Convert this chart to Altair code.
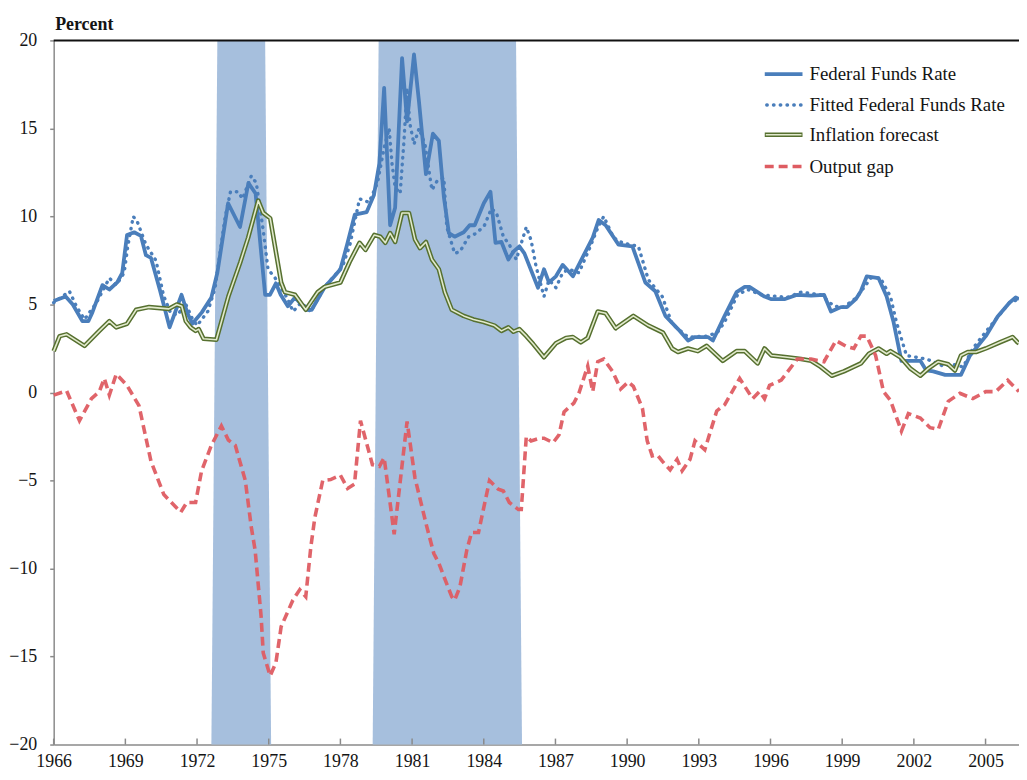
import altair as alt
import pandas as pd

# ---------------- data ----------------
ffr_x = [1966.0, 1966.5, 1966.8, 1967.2, 1967.45, 1967.62, 1968.04, 1968.33, 1968.66, 1968.87,
         1969.07, 1969.37, 1969.65, 1969.86, 1970.07, 1970.45, 1970.85, 1971.35, 1971.6, 1971.8,
         1972.2, 1972.6, 1972.85, 1973.3, 1973.8, 1974.15, 1974.45, 1974.85, 1975.05, 1975.3,
         1975.5, 1975.8, 1976.1, 1976.3, 1976.55, 1976.8, 1977.35, 1977.75, 1978.0, 1978.3,
         1978.6, 1979.1, 1979.4, 1979.63, 1979.83, 1980.08, 1980.29, 1980.58, 1980.79, 1981.08,
         1981.29, 1981.58, 1981.87, 1982.12, 1982.33, 1982.54, 1982.78, 1983.16, 1983.41, 1983.62,
         1984.0, 1984.28, 1984.49, 1984.74, 1985.03, 1985.24, 1985.49, 1985.7, 1986.27, 1986.52,
         1986.73, 1987.02, 1987.3, 1987.73, 1988.56, 1988.81, 1989.1, 1989.64, 1990.22, 1990.76,
         1991.18, 1991.6, 1992.13, 1992.55, 1992.84, 1993.38, 1993.59, 1994.08, 1994.58, 1994.92,
         1995.12, 1995.75, 1996.04, 1996.58, 1997.12, 1997.7, 1998.24, 1998.53, 1998.95, 1999.2,
         1999.57, 1999.78, 2000.03, 2000.52, 2000.86, 2001.15, 2001.48, 2002.27, 2002.52, 2002.81,
         2003.31, 2003.97, 2004.35, 2005.01, 2005.5, 2006.0, 2006.26, 2006.4]
ffr_y = [5.2, 5.45, 5.0, 4.05, 4.05, 4.55, 6.1, 5.85, 6.25, 6.8,
         8.95, 9.1, 8.9, 7.8, 7.65, 5.8, 3.7, 5.55, 4.5, 3.9,
         4.55, 5.4, 6.8, 10.75, 9.4, 11.9, 11.3, 5.55, 5.55, 6.2,
         5.55, 4.9, 5.4, 5.1, 4.7, 4.7, 6.0, 6.6, 7.0, 8.5,
         10.1, 10.25, 11.2, 13.0, 17.3, 9.5, 10.5, 19.0, 15.4, 19.2,
         16.5, 12.4, 14.7, 14.3, 11.1, 9.05, 8.85, 9.1, 9.5, 9.5,
         10.75, 11.4, 8.5, 8.55, 7.55, 8.0, 8.3, 7.9, 5.95, 7.0,
         6.25, 6.6, 7.25, 6.6, 8.8, 9.8, 9.5, 8.4, 8.3, 6.25,
         5.75, 4.35, 3.6, 2.95, 3.15, 3.15, 2.95, 4.35, 5.7, 6.0,
         6.0, 5.45, 5.3, 5.3, 5.55, 5.5, 5.55, 4.6, 4.85, 4.85,
         5.3, 5.75, 6.6, 6.5, 5.45, 4.0, 1.8, 1.8, 1.25, 1.2,
         1.0, 1.0, 2.1, 3.2, 4.3, 5.1, 5.4, 5.3]

fit_x = [1966.0, 1966.66, 1966.95, 1967.29, 1967.79, 1968.33, 1968.62, 1968.95, 1969.1, 1969.33,
         1969.5, 1969.86, 1970.28, 1970.6, 1970.9, 1971.2, 1971.5, 1971.8, 1972.0, 1972.45,
         1972.75, 1973.18, 1973.4, 1973.73, 1973.9, 1974.27, 1974.48, 1974.77, 1974.97, 1975.27,
         1975.8, 1976.02, 1976.35, 1976.76, 1977.34, 1977.8, 1978.1, 1978.4, 1978.8, 1979.2,
         1979.55, 1979.83, 1980.04, 1980.16, 1980.29, 1980.5, 1980.66, 1980.79, 1980.91, 1981.08,
         1981.29, 1981.54, 1981.83, 1982.04, 1982.33, 1982.45, 1982.78, 1983.0, 1983.37, 1983.7,
         1984.03, 1984.32, 1984.53, 1984.82, 1985.07, 1985.36, 1985.78, 1985.98, 1986.19, 1986.52,
         1986.73, 1987.02, 1987.3, 1987.56, 1987.98, 1988.4, 1988.77, 1989.02, 1989.43, 1989.8,
         1990.47, 1990.89, 1991.47, 1991.88, 1992.55, 1993.38, 1993.8, 1994.08, 1994.62, 1995.04,
         1995.62, 1996.7, 1997.28, 1998.1, 1998.66, 1999.07, 1999.61, 2000.2, 2000.6, 2001.02,
         2001.27, 2001.69, 2002.52, 2002.81, 2003.23, 2003.64, 2004.06, 2004.47, 2005.01, 2005.43,
         2006.0, 2006.4]
fit_y = [5.1, 5.75, 4.9, 4.15, 5.1, 6.5, 6.1, 6.8, 8.3, 10.0,
         9.7, 8.4, 7.5, 5.5, 4.5, 4.4, 5.1, 4.2, 3.8, 4.6,
         5.9, 10.0, 11.4, 11.4, 11.0, 12.3, 11.9, 9.2, 7.0, 6.5,
         5.3, 4.6, 5.1, 4.6, 6.0, 6.7, 7.2, 8.4, 11.0, 10.8,
         11.9, 13.9, 15.0, 13.0, 11.65, 11.3, 14.3, 17.3, 15.25, 14.1,
         15.0, 14.1, 11.5, 12.0, 12.2, 9.4, 7.9, 8.0, 8.85, 9.05,
         9.5, 10.45, 10.2, 8.85, 8.4, 7.55, 9.4, 8.65, 7.15, 5.45,
         6.4, 5.95, 6.8, 7.0, 6.8, 8.1, 9.35, 10.0, 8.8, 8.5,
         8.3, 6.4, 5.45, 3.9, 3.15, 3.2, 3.45, 4.0, 5.55, 5.85,
         5.55, 5.4, 5.7, 5.55, 4.9, 4.85, 5.4, 6.5, 6.5, 5.45,
         4.0, 2.1, 1.9, 1.75, 1.5, 1.6, 1.45, 2.5, 3.45, 4.15,
         5.1, 5.3]

inf_x = [1966.0, 1966.25, 1966.54, 1967.29, 1967.91, 1968.33, 1968.62, 1969.07, 1969.45, 1969.99,
         1970.82, 1971.15, 1971.36, 1971.53, 1971.73, 1971.94, 1972.07, 1972.27, 1972.81, 1973.31,
         1973.81, 1974.14, 1974.56, 1974.77, 1975.06, 1975.52, 1975.68, 1976.1, 1976.55, 1977.05,
         1977.34, 1978.0, 1978.38, 1978.8, 1979.05, 1979.42, 1979.67, 1979.88, 1980.08, 1980.29,
         1980.58, 1980.87, 1981.12, 1981.33, 1981.58, 1981.83, 1982.12, 1982.37, 1982.66, 1983.16,
         1983.57, 1984.0, 1984.45, 1984.74, 1985.03, 1985.24, 1985.49, 1985.78, 1986.07, 1986.52,
         1987.02, 1987.44, 1987.73, 1988.06, 1988.35, 1988.77, 1989.1, 1989.52, 1990.26, 1990.89,
         1991.5, 1991.88, 1992.13, 1992.55, 1992.96, 1993.33, 1994.0, 1994.58, 1994.92, 1995.46,
         1995.75, 1996.04, 1996.7, 1997.28, 1997.7, 1998.1, 1998.57, 1999.07, 1999.78, 2000.12,
         2000.52, 2000.86, 2001.02, 2001.44, 2001.86, 2002.27, 2002.6, 2003.02, 2003.44, 2003.72,
         2003.97, 2004.26, 2004.6, 2005.01, 2005.6, 2006.13, 2006.34, 2006.4]
inf_y = [2.35, 3.2, 3.3, 2.65, 3.5, 4.05, 3.7, 3.9, 4.7, 4.85,
         4.75, 5.0, 4.9, 4.05, 3.7, 3.5, 3.6, 3.05, 3.0, 5.45,
         7.4, 8.8, 10.9, 10.2, 9.9, 6.25, 5.7, 5.55, 4.7, 5.7,
         6.0, 6.25, 7.4, 8.5, 8.1, 8.95, 8.85, 8.5, 9.05, 8.55,
         10.2, 10.2, 8.7, 8.2, 8.55, 7.55, 7.0, 5.7, 4.7, 4.35,
         4.15, 4.0, 3.8, 3.5, 3.7, 3.45, 3.6, 3.2, 2.75, 2.0,
         2.8, 3.1, 3.15, 2.85, 3.1, 4.6, 4.5, 3.65, 4.35, 3.8,
         3.4, 2.5, 2.3, 2.5, 2.35, 2.65, 1.8, 2.35, 2.35, 1.65,
         2.5, 2.1, 2.0, 1.9, 1.8, 1.45, 0.95, 1.2, 1.65, 2.2,
         2.5, 2.2, 2.35, 2.0, 1.35, 0.95, 1.35, 1.75, 1.6, 1.25,
         2.1, 2.3, 2.3, 2.5, 2.85, 3.15, 2.85, 2.8]

gap_x = [1966.0, 1966.54, 1967.08, 1967.58, 1967.91, 1968.12, 1968.33, 1968.62, 1969.07, 1969.57,
         1970.07, 1970.61, 1971.32, 1971.57, 1971.94, 1972.19, 1972.6, 1973.02, 1973.31, 1973.6,
         1974.02, 1974.27, 1974.43, 1974.68, 1974.77, 1975.06, 1975.3, 1975.52, 1976.01, 1976.3,
         1976.55, 1976.76, 1976.93, 1977.26, 1977.59, 1978.0, 1978.3, 1978.59, 1978.84, 1979.34,
         1979.63, 1979.83, 1980.25, 1980.79, 1981.12, 1981.62, 1981.91, 1982.12, 1982.33, 1982.66,
         1982.78, 1983.0, 1983.29, 1983.49, 1983.78, 1984.24, 1984.61, 1984.82, 1985.07, 1985.45,
         1985.57, 1985.78, 1985.98, 1986.32, 1986.52, 1986.9, 1987.15, 1987.36, 1987.77, 1987.98,
         1988.35, 1988.56, 1988.77, 1989.02, 1989.39, 1989.73, 1990.05, 1990.26, 1990.64, 1990.84,
         1991.05, 1991.26, 1991.47, 1991.8, 1992.09, 1992.3, 1992.63, 1992.84, 1993.25, 1993.75,
         1994.08, 1994.71, 1995.25, 1995.54, 1995.75, 1995.96, 1996.45, 1997.12, 1997.7, 1998.24,
         1998.74, 1999.2, 1999.49, 1999.78, 2000.03, 2000.4, 2000.73, 2001.02, 2001.48, 2001.77,
         2002.27, 2002.68, 2003.02, 2003.44, 2003.93, 2004.47, 2005.01, 2005.43, 2005.93, 2006.4]
gap_y = [-0.15, 0.1, -1.6, -0.35, 0.05, 0.8, -0.15, 1.05, 0.4, -0.75,
         -3.9, -5.8, -6.8, -6.25, -6.25, -4.45, -3.0, -1.9, -2.7, -3.0,
         -5.0, -7.65, -8.95, -12.7, -14.8, -16.1, -15.35, -13.3, -11.8, -11.2,
         -11.6, -8.8, -7.1, -5.0, -4.95, -4.7, -5.45, -5.2, -1.6, -4.1,
         -4.2, -3.7, -8.05, -1.65, -4.85, -7.65, -9.15, -9.7, -10.45, -11.6,
         -11.8, -11.05, -8.95, -7.95, -7.95, -5.0, -5.5, -5.6, -6.25, -6.65,
         -6.65, -2.5, -2.75, -2.6, -2.6, -2.85, -2.4, -1.1, -0.6, -0.05,
         1.5, 0.05, 1.75, 1.9, 1.2, 0.2, 0.6, 0.35, -0.9, -2.75,
         -3.6, -3.55, -3.9, -4.4, -3.8, -4.45, -3.8, -2.75, -3.25, -1.05,
         -0.7, 0.8, -0.35, 0.05, -0.35, 0.4, 0.7, 1.9, 1.9, 1.75,
         2.95, 2.6, 2.5, 3.2, 3.2, 2.1, 0.05, -0.45, -2.2, -1.2,
         -1.45, -2.0, -2.1, -0.5, -0.05, -0.35, 0.05, 0.05, 0.7, 0.05]

# shaded periods (Excel area series: off / on / on / off)
rec_x = [1972.60, 1972.85, 1974.85, 1975.10, 1979.35, 1979.60, 1985.35, 1985.60]
rec_top = [-20, 20, 20, -20, -20, 20, 20, -20]
rec_bottom = [-20, -20, -20, -20, -20, -20, -20, -20]
rec_band = [1, 1, 1, 1, 2, 2, 2, 2]

x_ticks = [1966, 1969, 1972, 1975, 1978, 1981, 1984, 1987, 1990, 1993, 1996, 1999, 2002, 2005]
y_ticks = [-20, -15, -10, -5, 0, 5, 10, 15, 20]
legend_labels = ["Federal Funds Rate", "Fitted Federal Funds Rate", "Inflation forecast", "Output gap"]

# ---------------- styling ----------------
W, H = 972, 709
FONT = "Liberation Serif, Times New Roman, Times, DejaVu Serif, serif"
BLUE = "#4A7EBB"
RED = "#DE5C62"
GREEN_D = "#56702F"
GREEN_L = "#E2EACD"
SHADE = "#A6BFDD"
AXIS_GRAY = "#8A8A8A"
TXT = "#141414"

xs = alt.Scale(domain=[1966, 2006.4], nice=False, zero=False)
ys = alt.Scale(domain=[-20, 20], nice=False, zero=False)

x_axis = alt.Axis(
    values=x_ticks, format="d", title=None, grid=False, ticks=False, tickSize=0,
    labelFlush=False, labelPadding=8, labelFont=FONT, labelFontSize=18, labelColor=TXT,
    labelBaseline="top", domainColor=AXIS_GRAY, domainWidth=1.5, labelOverlap=False)
y_axis = alt.Axis(
    values=y_ticks, title="Percent", titleAngle=0, titleX=1, titleY=-11, titleAlign="left",
    titleBaseline="alphabetic", titleFont=FONT, titleFontSize=18, titleFontWeight="bold",
    titleColor=TXT, grid=False, tickSize=4, tickColor=AXIS_GRAY, tickWidth=1.5,
    domainColor=AXIS_GRAY, domainWidth=1.5, labelPadding=13, labelFont=FONT,
    labelFontSize=18, labelColor=TXT, labelOverlap=False)

x_enc = alt.X("year:Q", scale=xs, axis=x_axis)
y_enc = alt.Y("value:Q", scale=ys, axis=y_axis, stack=None)


def frame(xv, yv):
    return pd.DataFrame({"year": xv, "value": yv})


rec_df = pd.DataFrame({"year": rec_x, "value": rec_top, "low": rec_bottom, "band": rec_band})
shade = alt.Chart(rec_df).mark_area(color=SHADE, opacity=1).encode(
    x=x_enc, y=y_enc, y2=alt.Y2("low:Q"), detail="band:N")

ffr = alt.Chart(frame(ffr_x, ffr_y)).mark_line(
    color=BLUE, strokeWidth=3.8, strokeJoin="round").encode(x=x_enc, y=y_enc)
fit = alt.Chart(frame(fit_x, fit_y)).mark_line(
    color=BLUE, strokeWidth=3.4, strokeDash=[0.5, 6.3], strokeCap="round").encode(x=x_enc, y=y_enc)
inf_outer = alt.Chart(frame(inf_x, inf_y)).mark_line(
    color=GREEN_D, strokeWidth=4.6, strokeJoin="round").encode(x=x_enc, y=y_enc)
inf_inner = alt.Chart(frame(inf_x, inf_y)).mark_line(
    color=GREEN_L, strokeWidth=1.6, strokeJoin="round").encode(x=x_enc, y=y_enc)
gap = alt.Chart(frame(gap_x, gap_y)).mark_line(
    color=RED, strokeWidth=3.6, strokeDash=[9, 5], opacity=0.95).encode(x=x_enc, y=y_enc)

tick_df = pd.DataFrame({"year": x_ticks})
xticks = alt.Chart(tick_df).mark_rule(color=AXIS_GRAY, strokeWidth=1.5).encode(
    x=alt.X("year:Q", scale=xs, axis=x_axis), y=alt.value(H - 6), y2=alt.value(H))

one = pd.DataFrame({"k": [0]})
top_line = alt.Chart(one).mark_rule(color="#111111", strokeWidth=2).encode(
    x=alt.value(0), x2=alt.value(W), y=alt.value(0))

# legend (manual, to reproduce the line styles)
LX1, LX2, TX = 716, 754, 761
rows = [34, 65, 95, 127]
leg = []
leg.append(alt.Chart(one).mark_rule(color=BLUE, strokeWidth=3.8).encode(
    x=alt.value(LX1), x2=alt.value(LX2), y=alt.value(rows[0])))
leg.append(alt.Chart(one).mark_rule(color=BLUE, strokeWidth=3.4, strokeDash=[0.5, 6.3],
                                    strokeCap="round").encode(
    x=alt.value(LX1 + 2), x2=alt.value(LX2), y=alt.value(rows[1])))
leg.append(alt.Chart(one).mark_rule(color=GREEN_D, strokeWidth=4.6).encode(
    x=alt.value(LX1), x2=alt.value(LX2), y=alt.value(rows[2])))
leg.append(alt.Chart(one).mark_rule(color=GREEN_L, strokeWidth=1.6).encode(
    x=alt.value(LX1 + 1), x2=alt.value(LX2 - 1), y=alt.value(rows[2])))
leg.append(alt.Chart(one).mark_rule(color=RED, strokeWidth=3.6, strokeDash=[9, 5]).encode(
    x=alt.value(LX1), x2=alt.value(LX2), y=alt.value(rows[3])))
for lab, ry in zip(legend_labels, rows):
    leg.append(alt.Chart(one).mark_text(align="left", baseline="middle", font=FONT,
                                        fontSize=19, color=TXT, text=lab).encode(
        x=alt.value(TX), y=alt.value(ry)))

chart = alt.layer(shade, top_line, ffr, fit, inf_outer, inf_inner, gap, xticks, *leg).properties(
    width=W, height=H, autosize="none",
    padding={"left": 46, "top": 30, "right": 0, "bottom": 24},
    background="white",
).configure_view(stroke=None)

chart.save("out.html", embed_options={"renderer": "svg", "actions": False})
